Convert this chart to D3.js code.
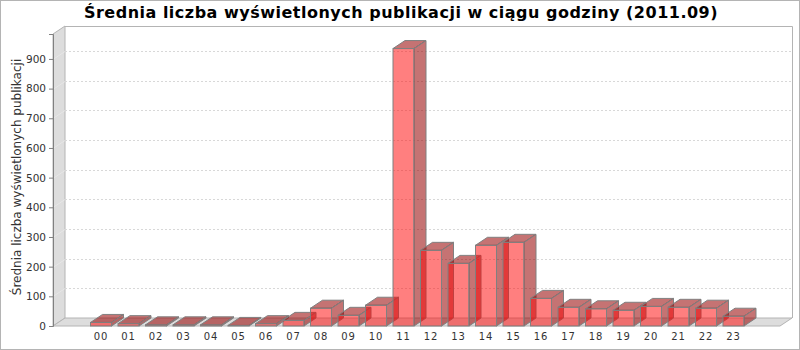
<!DOCTYPE html>
<html lang="pl">
<head>
    <meta charset="UTF-8">
    <title>Średnia liczba wyświetlonych publikacji</title>
    <script src="https://d3js.org/d3.v7.min.js"></script>
    <style>
        body { margin: 0; background: #fff; }
        svg { display: block; font-family: "DejaVu Sans", sans-serif; }
    </style>
</head>
<body>
    <div id="chart"></div>

    <script>
        // Hours of day and average views per hour (2011.09)
        const hours = ["00", "01", "02", "03", "04", "05", "06", "07", "08", "09", "10", "11",
                       "12", "13", "14", "15", "16", "17", "18", "19", "20", "21", "22", "23"];
        const avgViews = [12, 8, 4, 4, 4, 2, 8, 19, 60, 36, 70, 935,
                          255, 211, 272, 282, 93, 63, 58, 53, 66, 63, 60, 33];
        const yTicks = [0, 100, 200, 300, 400, 500, 600, 700, 800, 900];

        const title = "Średnia liczba wyświetlonych publikacji w ciągu godziny (2011.09)";
        const yLabel = "Średnia liczba wyświetlonych publikacji";

        const width = 800, height = 350;
        const dx = 12, dy = 8;          // 3D depth offset
        const barW = 21;
        const plotLeft = 53, plotRight = 780, plotBottom = 326, plotTop = 34;

        const svg = d3.select("#chart").append("svg")
            .attr("width", width)
            .attr("height", height);

        // outer border
        svg.append("rect")
            .attr("x", 0.5).attr("y", 0.5)
            .attr("width", width - 1).attr("height", height - 1)
            .attr("fill", "#fff")
            .attr("stroke", "#b4b4b4");

        const x = d3.scalePoint()
            .domain(hours)
            .range([101, 733.5]);

        const y = d3.scaleLinear()
            .domain([0, 984])
            .range([plotBottom, plotTop]);

        // back outline of plot area
        svg.append("path")
            .attr("d", `M${plotLeft + dx},${plotTop - dy + 0.5}H${plotRight + dx + 0.5}V${plotBottom - dy}`)
            .attr("fill", "none")
            .attr("stroke", "#b4b4b4");

        // left wall
        svg.append("polygon")
            .attr("points", [[plotLeft, plotBottom], [plotLeft, plotTop], [plotLeft + dx, plotTop - dy], [plotLeft + dx, plotBottom - dy]].join(" "))
            .attr("fill", "#dddddd")
            .attr("stroke", "#b4b4b4");

        // floor
        svg.append("polygon")
            .attr("points", [[plotLeft, plotBottom], [plotLeft + dx, plotBottom - dy], [plotRight + dx, plotBottom - dy], [plotRight, plotBottom]].join(" "))
            .attr("fill", "#dddddd")
            .attr("stroke", "#b4b4b4");

        // gridlines on back wall + diagonal on left wall
        const grid = svg.append("g");
        yTicks.filter(d => d > 0).forEach(d => {
            const yy = Math.round(y(d)) + 0.5;
            grid.append("line")
                .attr("x1", plotLeft + dx).attr("x2", plotRight + dx)
                .attr("y1", yy - dy).attr("y2", yy - dy)
                .attr("stroke", "#d8d8d8")
                .attr("stroke-dasharray", "2,2");
            grid.append("line")
                .attr("x1", plotLeft).attr("x2", plotLeft + dx)
                .attr("y1", yy).attr("y2", yy - dy)
                .attr("stroke", "#e6e6e6");
        });

        // bars
        const bars = svg.append("g");
        hours.forEach((h, i) => {
            const v = avgViews[i];
            const x0 = x(h) - barW / 2, x1 = x0 + barW;
            const yt = y(v);
            const g = bars.append("g");
            g.append("rect")
                .attr("x", x0).attr("y", yt)
                .attr("width", barW).attr("height", plotBottom - yt)
                .attr("fill", "#ff0000").attr("fill-opacity", 0.5)
                .attr("stroke", "#808080");
            g.append("polygon")
                .attr("points", [[x1, yt], [x1 + dx, yt - dy], [x1 + dx, plotBottom - dy], [x1, plotBottom]].join(" "))
                .attr("fill", "#960000").attr("fill-opacity", 0.55)
                .attr("stroke", "#808080");
            g.append("polygon")
                .attr("points", [[x0, yt], [x0 + dx, yt - dy], [x1 + dx, yt - dy], [x1, yt]].join(" "))
                .attr("fill", "#960000").attr("fill-opacity", 0.55)
                .attr("stroke", "#808080");
        });

        // y axis
        const yAxis = svg.append("g")
            .attr("transform", `translate(${plotLeft},0)`)
            .call(d3.axisLeft(y).tickValues(yTicks).tickSize(4).tickPadding(3));
        yAxis.select(".domain").attr("stroke", "#808080");
        yAxis.selectAll(".tick line").attr("stroke", "#808080");
        yAxis.selectAll("text")
            .style("font-family", "DejaVu Sans, sans-serif")
            .style("font-size", "10.5px")
            .attr("fill", "#333");

        // x axis labels
        svg.append("g")
            .selectAll("text")
            .data(hours)
            .join("text")
            .attr("x", d => x(d))
            .attr("y", 340)
            .attr("text-anchor", "middle")
            .style("font-size", "10px")
            .style("letter-spacing", "1px")
            .attr("fill", "#333")
            .text(d => d);

        // y axis label
        svg.append("text")
            .attr("transform", "translate(21,177) rotate(-90)")
            .attr("text-anchor", "middle")
            .style("font-size", "12px")
            .attr("fill", "#333")
            .text(yLabel);

        // chart title
        svg.append("text")
            .attr("x", 401)
            .attr("y", 18)
            .attr("text-anchor", "middle")
            .style("font-size", "16px")
            .style("font-weight", "bold")
            .style("letter-spacing", "0.5px")
            .attr("fill", "#000")
            .text(title);
    </script>
</body>
</html>
